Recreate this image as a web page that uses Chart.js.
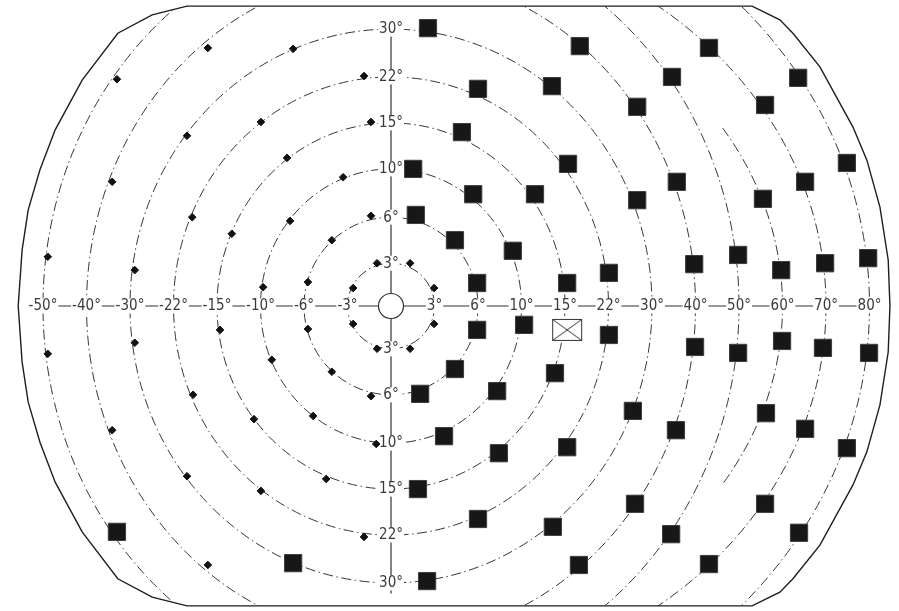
<!DOCTYPE html>
<html>
<head>
<meta charset="utf-8">
<title>Visual field test grid</title>
<style>
  html, body { margin: 0; padding: 0; background: #ffffff; }
  #wrap { position: relative; width: 899px; height: 611px; }
</style>
<script src="https://cdn.jsdelivr.net/npm/chart.js@4.4.1/dist/chart.umd.min.js"></script>
</head>
<body>
<div id="wrap"><canvas id="field"></canvas></div>
<script>
// Ring eccentricities in degrees; ring k sits at index k+1 on the meridians.
const eccentricities = [3, 6, 10, 15, 22, 30, 40, 50, 60, 70, 80];
const leftRingCount = 8;      // -3°..-50° labelled on the left meridian
const verticalRingCount = 6;  // 3°..30° labelled up and down

// Test locations, in ring-index units (x: horizontal meridian, y: vertical meridian).
// Locations where the stimulus was seen (small diamonds).
const seenX = [-4.21, -2.25, -6.30, -0.62, -2.99, -4.69, -0.46, -2.39, -6.41, -1.10,
               -4.57, -2.32, -3.66, -0.46, -1.36, -7.89, -5.89, -2.94, -1.91, -0.32,
                0.44, -0.87,  0.99, -0.87,  0.99, -0.32,  0.44, -1.91, -3.93, -5.89,
               -7.89, -2.74, -1.36, -4.55, -0.46, -1.79, -3.15, -6.41, -0.34, -4.69,
               -1.49, -2.99, -0.62, -4.21];
const seenY = [ 5.61,  5.59,  4.93,  5.00,  4.00,  3.70,  4.00,  3.22,  2.70,  2.80,
                1.93,  1.85,  1.57,  1.96,  1.43,  1.07,  0.78,  0.41,  0.52,  0.93,
                0.93,  0.39,  0.39, -0.39, -0.39, -0.93, -0.93, -0.50, -0.52, -0.80,
               -1.04, -1.17, -1.43, -1.93, -1.96, -2.39, -2.46, -2.70, -3.00, -3.70,
               -3.76, -4.02, -5.02, -5.63];

// Locations where the stimulus was missed (filled squares).
const missedX = [ 0.85,  4.34,  7.31,  2.00,  3.70,  6.46,  9.36,  5.66,  8.60,  1.63,
                  0.51,  4.07, 10.48,  1.89,  3.31,  6.57,  9.52,  5.66,  8.55,  0.57,
                  1.47,  2.80,  1.98,  4.05,  5.01,  6.97,  7.98,  8.97,  9.98, 10.97,
                  1.98,  3.06,  5.01,  6.99,  7.98,  8.99,  9.93, 10.99,  1.47,  3.77,
                  0.67,  2.44,  5.56,  8.62,  6.55,  9.52,  1.22,  4.05, 10.48,  2.48,
                  0.62,  5.61,  8.60,  2.00,  3.72,  6.44,  9.38,  4.32,  7.31,  0.83,
                 -6.30, -2.25];
const missedY = [ 6.04,  5.65,  5.61,  4.72,  4.78,  4.98,  4.96,  4.33,  4.37,  3.78,
                  2.98,  3.09,  3.11,  2.43,  2.43,  2.70,  2.70,  2.30,  2.33,  1.98,
                  1.43,  1.20,  0.50,  0.50,  0.72,  0.91,  1.11,  0.78,  0.93,  1.04,
                 -0.52, -0.41, -0.63, -0.89, -1.02, -0.76, -0.91, -1.02, -1.37, -1.46,
                 -1.91, -1.85, -2.28, -2.33, -2.70, -2.67, -2.83, -3.07, -3.09, -3.20,
                 -3.98, -4.30, -4.30, -4.63, -4.80, -4.96, -4.93, -5.63, -5.61, -5.98,
                 -4.91, -5.59];

// Physiological blind spot and the fixation target.
const blindSpotX = [4.05];
const blindSpotY = [-0.52];
const fixationX = [0];
const fixationY = [0];

const toPoints = (xs, ys) => xs.map((v, i) => ({ x: v, y: ys[i] }));

// Rectangle with a cross, used for the blind spot marker.
function blindSpotGlyph() {
  const c = document.createElement('canvas');
  c.width = 32; c.height = 24;
  const g = c.getContext('2d');
  g.fillStyle = '#ffffff';
  g.fillRect(1, 1, 30, 22);
  g.strokeStyle = '#333333';
  g.lineWidth = 1;
  g.strokeRect(1.5, 1.5, 29, 21);
  g.beginPath();
  g.moveTo(1.5, 1.5); g.lineTo(30.5, 22.5);
  g.moveTo(30.5, 1.5); g.lineTo(1.5, 22.5);
  g.stroke();
  return c;
}

// Draws the perimeter outline, the dashed isopter rings, the meridians and their labels.
const fieldGrid = {
  id: 'fieldGrid',
  beforeDraw(chart) {
    const { ctx, width, height } = chart;
    ctx.save();
    ctx.fillStyle = '#ffffff';
    ctx.fillRect(0, 0, width, height);
    ctx.restore();
  },
  beforeDatasetsDraw(chart, args, opts) {
    const { ctx, scales: { x, y } } = chart;
    const px = v => x.getPixelForValue(v);
    const py = v => y.getPixelForValue(v);
    const cx = px(0), cy = py(0);

    // outline: upper-left and upper-right quarters mirrored downwards
    const L = opts.outlineLeft, R = opts.outlineRight;
    const pts = [];
    L.forEach(p => pts.push(p));
    L.slice(0, -1).reverse().forEach(p => pts.push([p[0], -p[1]]));
    R.slice(0, -1).forEach(p => pts.push([p[0], -p[1]]));
    R.slice().reverse().forEach(p => pts.push(p));
    const outlinePath = () => {
      ctx.beginPath();
      pts.forEach((p, i) => {
        const X = px(p[0]), Y = py(p[1]);
        if (i === 0) ctx.moveTo(X, Y); else ctx.lineTo(X, Y);
      });
      ctx.closePath();
    };

    // dashed rings, clipped to the outline
    ctx.save();
    outlinePath();
    ctx.clip();
    ctx.strokeStyle = '#363636';
    ctx.lineWidth = 1;
    ctx.setLineDash([10, 3.5, 1.5, 3.5]);
    opts.ringHeights.forEach((h, k) => {
      const rx = px(k + 1) - cx;
      const ry = cy - py(h);
      const arc = opts.partialArcs[k];
      ctx.beginPath();
      if (arc) ctx.ellipse(cx, cy, rx, ry, 0, -arc, arc);
      else ctx.ellipse(cx, cy, rx, ry, 0, 0, Math.PI * 2);
      ctx.stroke();
    });
    ctx.restore();

    // outline
    ctx.save();
    outlinePath();
    ctx.strokeStyle = '#1e1e1e';
    ctx.lineWidth = 1.4;
    ctx.stroke();
    ctx.restore();

    // meridians
    ctx.save();
    ctx.strokeStyle = '#333333';
    ctx.lineWidth = 1.2;
    ctx.beginPath();
    ctx.moveTo(px(-leftRingCount), cy);
    ctx.lineTo(px(eccentricities.length), cy);
    ctx.moveTo(cx, py(opts.ringHeights[verticalRingCount - 1]));
    ctx.lineTo(cx, py(-opts.verticalTo));
    ctx.stroke();
    ctx.restore();

    // labels with a white knock-out behind them
    ctx.save();
    ctx.font = opts.font;
    ctx.textAlign = 'center';
    ctx.textBaseline = 'middle';
    const label = (text, X, Y) => {
      const w = ctx.measureText(text).width;
      ctx.fillStyle = '#ffffff';
      ctx.fillRect(X - w / 2 - 1, Y - 7.5, w + 2, 15);
      ctx.fillStyle = '#3a3a3a';
      ctx.fillText(text, X, Y + 0.5);
    };
    eccentricities.forEach((e, k) => {
      label(e + '°', px(k + 1), cy);
      if (k < leftRingCount) label('-' + e + '°', px(-(k + 1)), cy);
      if (k < verticalRingCount) {
        label(e + '°', cx, py(opts.ringHeights[k]));
        label(e + '°', cx, py(-opts.ringHeights[k]));
      }
    });
    ctx.restore();
  }
};

const unitX = 43.5, unitY = 46;   // pixels per ring step
const originX = 391, originY = 306;

new Chart(document.getElementById('field'), {
  type: 'scatter',
  data: {
    datasets: [
      {
        label: 'Not seen',
        data: toPoints(missedX, missedY),
        pointStyle: 'rect',
        pointRadius: 12.2,
        backgroundColor: '#171717',
        borderColor: '#3d3d3d',
        borderWidth: 1
      },
      {
        label: 'Seen',
        data: toPoints(seenX, seenY),
        pointStyle: 'rectRot',
        pointRadius: 3.8,
        backgroundColor: '#111111',
        borderColor: '#111111',
        borderWidth: 1
      },
      {
        label: 'Blind spot',
        data: toPoints(blindSpotX, blindSpotY),
        pointStyle: blindSpotGlyph(),
        pointRadius: 12
      },
      {
        label: 'Fixation',
        data: toPoints(fixationX, fixationY),
        pointStyle: 'circle',
        pointRadius: 12.5,
        backgroundColor: '#ffffff',
        borderColor: '#2e2e2e',
        borderWidth: 1.2
      }
    ]
  },
  options: {
    responsive: true,
    maintainAspectRatio: false,
    animation: false,
    events: [],
    layout: { padding: 0, autoPadding: false },
    scales: {
      x: { type: 'linear', display: false, min: -originX / unitX, max: (899 - originX) / unitX },
      y: { type: 'linear', display: false, min: -(611 - originY) / unitY, max: originY / unitY }
    },
    plugins: {
      legend: { display: false },
      tooltip: { enabled: false },
      fieldGrid: {
        font: '15px "Liberation Sans Narrow", "DejaVu Sans Condensed", Arial, sans-serif',
        ringHeights: [0.93, 1.93, 2.98, 3.98, 4.98, 6.02, 7.24, 8.26, 7.28, 8.26, 9.57],
        partialArcs: { 8: 0.56 },
        verticalTo: 6.25,
        outlineLeft: [[-4.69, 6.52], [-5.49, 6.33], [-6.28, 5.93], [-7.10, 4.91], [-7.72, 3.83],
                      [-8.07, 2.96], [-8.34, 2.09], [-8.48, 1.22], [-8.57, 0]],
        outlineRight: [[8.30, 6.52], [8.94, 6.22], [9.24, 5.93], [9.86, 5.20], [10.62, 3.89],
                       [10.94, 3.17], [11.24, 2.15], [11.43, 1.00], [11.47, 0]]
      }
    },
    elements: { point: { hoverRadius: 0 } }
  },
  plugins: [fieldGrid]
});
</script>
</body>
</html>
